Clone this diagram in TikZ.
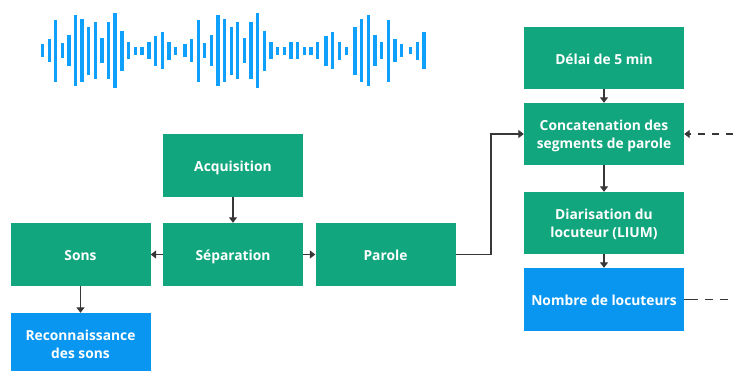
\documentclass[tikz,border=0pt]{standalone}
\usepackage{fontspec}
\setmainfont{Open Sans}
\usetikzlibrary{arrows.meta}
\definecolor{kgreen}{RGB}{17,166,126}
\definecolor{kblue}{RGB}{8,150,240}
\definecolor{kwave}{RGB}{14,160,250}
\definecolor{kline}{RGB}{55,55,55}
\tikzset{
  box/.style={align=center, inner sep=0pt, text=white, font=\fontsize{13.8}{18}\selectfont\bfseries},
  kone/.style={text height=12pt, text depth=0pt},
  ktwo/.style={text depth=0pt},
  kstep/.style={box, fill=kgreen, minimum width=140pt, minimum height=63pt},
  kright/.style={box, fill=kgreen, minimum width=160pt, minimum height=62pt},
  kresult/.style={kstep, fill=kblue},
  flow/.style={-{Triangle[length=5.5pt,width=8pt]}, line width=1.8pt, kline},
  dflow/.style={flow, dash pattern=on 7pt off 7pt},
  wave/.style={kwave, line width=3.2pt},
}

\begin{document}
\begin{tikzpicture}[x=1pt,y=-1pt]
  \useasboundingbox (0,0) rectangle (733,370);
  % waveform
  \foreach \x/\h in {42.3/6.7, 49.3/11.3, 55.7/31, 62.3/7.7, 69/15.7, 75.7/35.3, 82/31.3, 88.7/24,
    95.7/28.7, 102/12.3, 108.7/28.7, 115/37.3, 122/20, 128.3/8.3, 135.3/4, 142/4, 149/8.3,
    155.7/15, 162.3/18.3, 169/9, 175.7/4, 185/6.7, 191.7/11.3, 198.3/31, 204.7/7.7, 211.3/15.7,
    218/35.3, 224.7/31.3, 231.3/24, 237.7/28.7, 244.3/12.3, 251/28.7, 257.7/37.3, 264.3/20,
    271/8.3, 277.7/4, 284.3/4, 291/8.3, 297.7/8.3, 304.3/4, 311/4, 317.7/8.3, 326/15, 332.7/18.3,
    339.3/9, 346.7/4, 355/24, 361.7/31.3, 368.3/35.3, 375/15.7, 381.7/8.3, 388.3/31, 395/11.5,
    401.7/6.7, 410.7/3.5, 417.3/9, 424/18.3}
    \draw[wave] (\x,{50.7-\h}) -- (\x,{50.7+\h});

  \node[kstep, kone] (acq) at (233,165.5) {Acquisition};
  \node[kstep, kone] (sep) at (233,254.5) {Séparation};
  \node[kstep, kone] (sons) at (80.5,254.5) {Sons};
  \node[kstep, kone] (parole) at (385.5,254.5) {Parole};
  \node[kresult, ktwo] (recon) at (80.5,344.5) {Reconnaissance\\des sons};
  \node[kright, kone] (delai) at (604,58) {Délai de 5 min};
  \node[kright, ktwo] (concat) at (604,134) {Concatenation des\\segments de parole};
  \node[kright, ktwo] (diar) at (604,223) {Diarisation du\\locuteur (LIUM)};
  \node[kright, kone, fill=kblue, minimum height=63pt] (nombre) at (604,299.5) {Nombre de locuteurs};
  \coordinate (extin) at (733,134);
  \coordinate (extout) at (733,299.5);

  \draw[flow] (acq) -- (sep);
  \draw[flow] (sep) -- (sons);
  \draw[flow] (sep) -- (parole);
  \draw[flow] (sons) -- (recon);
  \draw[flow] (parole.east) -- ++(35,0) |- (concat.west);
  \draw[flow] (delai) -- (concat);
  \draw[flow] (concat) -- (diar);
  \draw[flow] (diar) -- (nombre);
  \draw[dflow] (extin) -- (concat.east);
  \draw[line width=1.8pt, kline, dash pattern=on 14pt off 7pt on 8pt off 7pt on 8pt off 7pt] (nombre.east) -- (extout);
\end{tikzpicture}
\end{document}
